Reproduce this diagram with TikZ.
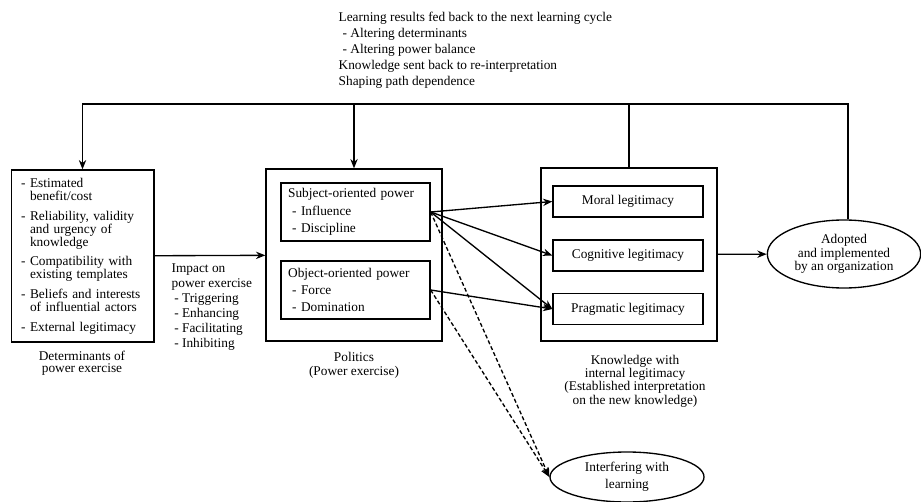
\documentclass[tikz,border=0pt]{standalone}
\usepackage{fontspec}
\setmainfont{Liberation Serif}
\usetikzlibrary{arrows.meta,shapes.geometric,positioning,calc}
\newcommand{\ind}{\hphantom{-\ }}

\begin{document}
\begin{tikzpicture}[x=0.75pt,y=-0.75pt,line width=1pt,
    box/.style={draw,rectangle,inner sep=0pt},
    oval/.style={draw,ellipse,inner sep=0pt,align=center},
    arr/.style={-{Stealth[length=7pt,width=5.5pt]}},
    lbl/.style={align=center,inner sep=0pt}]
    \useasboundingbox (0,0) rectangle (921,502);

    \node[anchor=west,inner sep=0pt,align=left,font=\fontsize{10}{12}\selectfont] (fbtext) at (338,50)
      {Learning results fed back to the next learning cycle\\
       \hspace{3pt}- Altering determinants\\
       \hspace{3pt}- Altering power balance\\
       Knowledge sent back to re-interpretation\\
       Shaping path dependence};

    \node[box,minimum width=107pt,minimum height=129pt,text width=92pt,align=left,
          font=\fontsize{10}{9.75}\selectfont] (det) at (82.5,256)
      {- Estimated\\ \ind benefit/cost\\[5pt]
       - Reliability, validity\\ \ind and urgency of\\ \ind knowledge\\[5pt]
       - Compatibility with\\ \ind existing templates\\[5pt]
       - Beliefs and interests\\ \ind of influential actors\\[5pt]
       - External legitimacy};
    \node[lbl,font=\fontsize{10}{8.75}\selectfont] (detlbl) at (82,363) {Determinants of\\power exercise};

    \node[anchor=west,inner sep=0pt,align=left,font=\fontsize{10}{11.25}\selectfont] (impact) at (171,307)
      {Impact on\\power exercise\\
       \hspace{2pt}- Triggering\\
       \hspace{2pt}- Enhancing\\
       \hspace{2pt}- Facilitating\\
       \hspace{2pt}- Inhibiting};

    \node[box,minimum width=132pt,minimum height=129pt] (pol) at (354,255) {};
    \node[box,minimum width=111.75pt,minimum height=43.5pt,text width=101pt,align=left,
          font=\fontsize{10}{13}\selectfont] (subj) at (355.5,212)
      {Subject-oriented power\\\hspace{3pt}- Influence\\\hspace{3pt}- Discipline};
    \node[box,minimum width=111.75pt,minimum height=43.5pt,text width=101pt,align=left,
          font=\fontsize{10}{13}\selectfont] (obj) at (355.5,290)
      {Object-oriented power\\\hspace{3pt}- Force\\\hspace{3pt}- Domination};
    \node[lbl,font=\fontsize{10}{10.5}\selectfont] (pollbl) at (354,365) {Politics\\(Power exercise)};

    \node[box,minimum width=132pt,minimum height=129.75pt] (know) at (629,254.5) {};
    \foreach \n/\y/\t in {moral/201.5/Moral,cog/255.5/Cognitive,prag/309/Pragmatic} {
      \node[box,minimum width=112.5pt,minimum height=23.25pt] (\n) at (628,\y) {\t\ legitimacy};
    }
    \node[lbl,font=\fontsize{10}{10}\selectfont] (knowlbl) at (635,381)
      {Knowledge with\\internal legitimacy\\(Established interpretation\\on the new knowledge)};

    \node[oval,minimum width=115pt,minimum height=51pt,font=\fontsize{10}{10}\selectfont] (adopted) at (844,254)
      {Adopted\\and implemented\\by an organization};
    \node[oval,minimum width=115.5pt,minimum height=37.5pt,font=\fontsize{10}{12.5}\selectfont] (interf) at (627,477)
      {Interfering with\\learning};

    \draw[arr] (det) -- (pol);
    \foreach \n in {moral,cog,prag} {
      \draw[arr] (subj.east) -- (\n.west);
    }
    \draw[arr] (obj.east) -- (prag.west);
    \foreach \n in {subj,obj} {
      \draw[arr,dash pattern=on 3pt off 1.8pt] (\n.east) -- (interf.west);
    }
    \draw[arr] (know) -- (adopted);

    \coordinate (fb) at (0,104);
    \draw[arr] ($(adopted.north)+(4,0)$) -- ($(adopted.north |- fb)+(4,0)$) -| (det.north);
    \draw[arr] (pol.north |- fb) -- (pol.north);
    \draw (know.north) -- (know.north |- fb);
\end{tikzpicture}
\end{document}
